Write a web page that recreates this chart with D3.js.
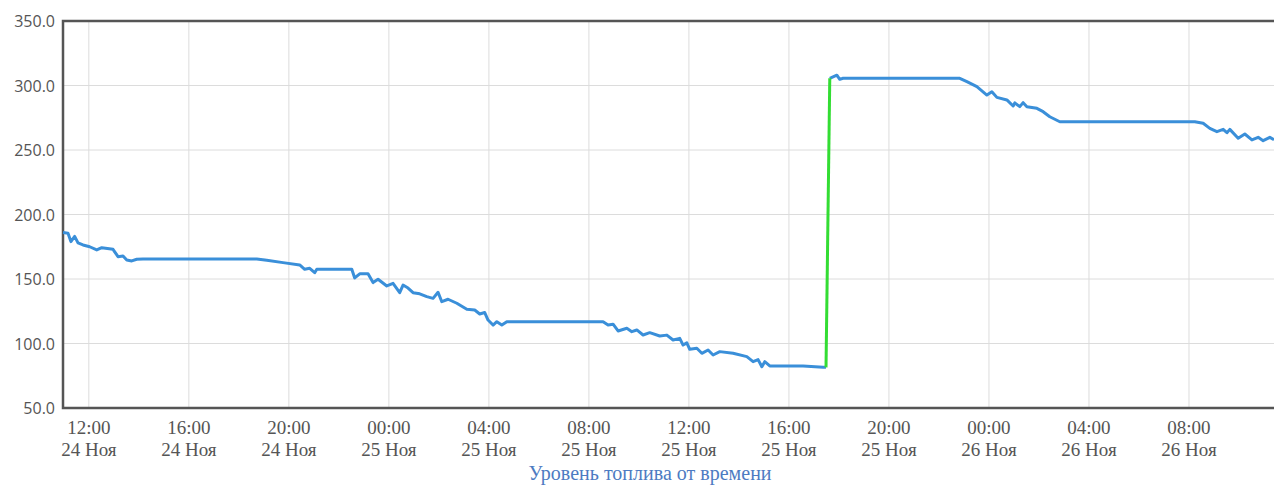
<!DOCTYPE html>
<html><head><meta charset="utf-8">
<script src="https://cdn.jsdelivr.net/npm/d3@7"></script>
<style>body{margin:0;background:#fff;}svg{display:block;}</style>
</head><body>
<svg id="chart" width="1274" height="486"></svg>
<script>
// Fuel level before refuelling (time, litres)
const beforeTimes = ["24 10:58","24 11:10","24 11:17","24 11:26","24 11:34","24 11:46","24 12:02","24 12:19","24 12:31","24 12:58","24 13:10","24 13:22","24 13:31","24 13:43","24 13:55","24 14:10","24 18:43","24 19:07","24 19:46","24 20:26","24 20:38","24 20:50","24 21:02","24 21:07","24 22:31","24 22:38","24 22:50","24 23:10","24 23:22","24 23:34","24 23:55","25 00:10","25 00:26","25 00:34","25 00:46","25 00:58","25 01:14","25 01:31","25 01:46","25 01:58","25 02:07","25 02:22","25 02:43","25 03:07","25 03:26","25 03:38","25 03:50","25 03:58","25 04:10","25 04:19","25 04:31","25 04:43","25 08:34","25 08:46","25 08:58","25 09:10","25 09:31","25 09:43","25 09:55","25 10:10","25 10:26","25 10:50","25 11:07","25 11:22","25 11:38","25 11:46","25 11:55","25 12:02","25 12:19","25 12:31","25 12:46","25 12:58","25 13:14","25 13:46","25 14:19","25 14:34","25 14:46","25 14:55","25 15:02","25 15:14","25 16:34","25 17:22","25 17:29"];
const beforeValues = [186,185.5,179,183,178,176.4,175,172.5,174.3,173,167.3,167.8,164.7,164,165.3,165.5,165.5,164.5,162.7,160.9,157.5,158.3,154.9,157.5,157.5,150.8,154,154,147.2,149.8,144.6,146.6,139.4,145.3,143,139.4,138.5,136.3,135,139.7,132.4,134.3,131.2,126.5,126,122.9,124,118.2,114.3,116.9,114.3,116.9,116.9,114.3,115,109.7,111.8,109.2,110.5,106.6,108.4,105.8,106.5,102.7,104,98.8,100.5,95.5,96.3,92.4,95,91.1,93.7,92.4,89.8,85.9,87.5,82,85.9,82.6,82.6,81.6,81.5];
// Refuelling segment
const refuelTimes = ["25 17:29","25 17:38"];
const refuelValues = [81.5,305.6];
// Fuel level after refuelling
const afterTimes = ["25 17:38","25 17:55","25 18:02","25 18:10","25 22:50","25 23:07","25 23:31","25 23:55","26 00:07","26 00:19","26 00:43","26 00:58","26 01:02","26 01:14","26 01:22","26 01:31","26 01:55","26 02:10","26 02:26","26 02:50","26 08:14","26 08:34","26 08:50","26 09:07","26 09:22","26 09:31","26 09:38","26 09:58","26 10:14","26 10:31","26 10:46","26 10:58","26 11:14","26 11:24"];
const afterValues = [305.6,308,304.8,305.6,305.6,303,299.1,292.6,295.2,290.8,288.8,284.1,286.5,283.6,286.7,283.6,282.3,279.7,275.8,271.9,271.9,270.7,266.8,264.2,266,263.4,266,259.1,262.4,257.8,259.8,257.2,259.8,258];
const yTicks = [50,100,150,200,250,300,350];
const xDomain = ["24 10:58","26 11:24"];
const chartTitle = "Уровень топлива от времени";
const monthLabel = "Ноя";

const parse = d3.timeParse("%Y-%m-%d %H:%M");
const p = s => { const [d, hm] = s.split(" "); return parse(`2023-11-${d} ${hm}`); };
const series = (ts, vs) => ts.map((t, i) => ({t: p(t), v: vs[i]}));

const svg = d3.select("#chart");
const L = 63, T = 21, R = 1274, B = 408;
const x = d3.scaleTime().domain(xDomain.map(p)).range([L, R]);
const y = d3.scaleLinear().domain([50, 350]).range([B, T]);
const xTicks = x.ticks(d3.timeHour.every(4)).filter(d => d.getHours() % 4 === 0);

const grid = svg.append("g");
grid.selectAll("line.h").data(yTicks).join("line")
  .attr("x1", L).attr("x2", R).attr("y1", d => y(d)).attr("y2", d => y(d))
  .attr("stroke", "#dcdcdc").attr("stroke-width", 1);
grid.selectAll("line.v").data(xTicks).join("line")
  .attr("x1", d => x(d)).attr("x2", d => x(d)).attr("y1", T).attr("y2", B)
  .attr("stroke", "#dcdcdc").attr("stroke-width", 1);

// frame
svg.append("path").attr("d", `M${R},${T}H${L}V${B}H${R}`)
  .attr("fill", "none").attr("stroke", "#555").attr("stroke-width", 2.5);

// y labels
svg.append("g").selectAll("text").data(yTicks).join("text")
  .attr("x", 55).attr("y", d => y(d) + 6).attr("text-anchor", "end")
  .attr("font-family", "'Open Sans', 'Liberation Sans', sans-serif").attr("font-size", 16)
  .attr("fill", "#555").text(d => d.toFixed(1));

// x labels
const fmtT = d3.timeFormat("%H:%M"), fmtD = d3.timeFormat("%d");
const xl = svg.append("g").selectAll("text").data(xTicks).join("text")
  .attr("text-anchor", "middle")
  .attr("font-family", "'Liberation Serif', 'Times New Roman', serif").attr("font-size", 19)
  .attr("fill", "#555");
xl.append("tspan").attr("x", d => x(d)).attr("y", 434).text(d => fmtT(d));
xl.append("tspan").attr("x", d => x(d)).attr("y", 456).text(d => fmtD(d) + " " + monthLabel);

// title
svg.append("text").attr("x", 650).attr("y", 480).attr("text-anchor", "middle")
  .attr("font-family", "'Liberation Serif', 'Times New Roman', serif").attr("font-size", 20)
  .attr("fill", "#4d7bc2").text(chartTitle);

const line = d3.line().x(d => x(d.t)).y(d => y(d.v));
const plot = svg.append("g");
plot.append("path").datum(series(beforeTimes, beforeValues)).attr("d", line)
  .attr("fill", "none").attr("stroke", "#3a8fd9").attr("stroke-width", 3).attr("stroke-linejoin", "round");
plot.append("path").datum(series(afterTimes, afterValues)).attr("d", line)
  .attr("fill", "none").attr("stroke", "#3a8fd9").attr("stroke-width", 3).attr("stroke-linejoin", "round");
plot.append("path").datum(series(refuelTimes, refuelValues)).attr("d", line)
  .attr("fill", "none").attr("stroke", "#33dd33").attr("stroke-width", 3).attr("stroke-linejoin", "round");
</script>
</body></html>
